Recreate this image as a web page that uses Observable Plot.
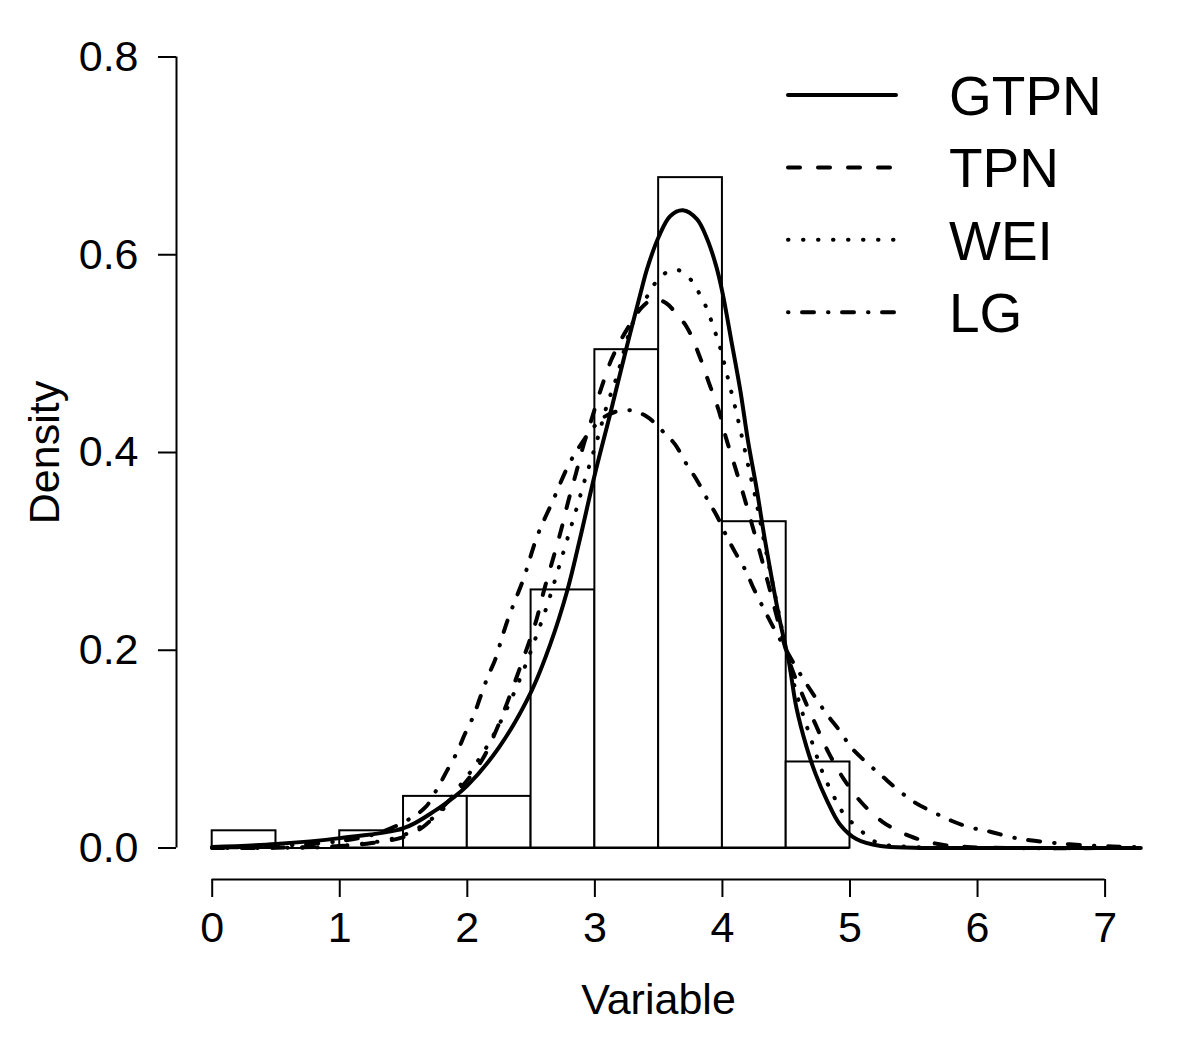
<!DOCTYPE html>
<html>
<head>
<meta charset="utf-8">
<script src="https://cdn.jsdelivr.net/npm/d3@7"></script>
<script src="https://cdn.jsdelivr.net/npm/@observablehq/plot@0.6"></script>
<style>
  html, body { margin: 0; padding: 0; background: #fff; }
  #chart { width: 1179px; height: 1048px; }
</style>
</head>
<body>
<div id="chart"></div>
<script>
// ---- Histogram ----
const binEdges = [0, 0.5, 1, 1.5, 2, 2.5, 3, 3.5, 4, 4.5, 5];
const binDensity = [0.0174, 0, 0.0174, 0.0522, 0.0522, 0.261, 0.504, 0.678, 0.330, 0.087];

// ---- Fitted densities ----
const gtpnX = [0, 0.5, 1, 1.5, 1.75, 1.89, 2, 2.25, 2.5, 2.65, 2.785, 2.88, 3, 3.12, 3.25, 3.36, 3.41, 3.5, 3.59, 3.69, 3.8, 3.88, 3.95, 4.0, 4.07, 4.14, 4.2, 4.27, 4.33, 4.45, 4.52, 4.58, 4.66, 4.73, 4.82, 4.92, 5.05, 5.24, 5.5, 6, 6.5, 7.28];
const gtpnY = [0.001, 0.004, 0.010, 0.020, 0.038, 0.051, 0.063, 0.102, 0.158, 0.206, 0.261, 0.311, 0.378, 0.439, 0.507, 0.562, 0.586, 0.618, 0.639, 0.645, 0.636, 0.616, 0.589, 0.562, 0.513, 0.463, 0.412, 0.362, 0.314, 0.230, 0.189, 0.142, 0.102, 0.075, 0.048, 0.024, 0.009, 0.002, 0.0003, 0, 0, 0];

const tpnX = [0, 0.5, 1, 1.25, 1.5, 1.66, 1.82, 1.99, 2.12, 2.22, 2.31, 2.39, 2.47, 2.54, 2.6, 2.73, 2.79, 2.85, 2.91, 2.98, 3.05, 3.13, 3.24, 3.37, 3.46, 3.56, 3.64, 3.72, 3.81, 3.89, 3.97, 4.03, 4.1, 4.17, 4.23, 4.3, 4.36, 4.47, 4.54, 4.63, 4.73, 4.83, 4.95, 5.09, 5.26, 5.47, 5.69, 5.92, 6.3, 7.28];
const tpnY = [0, 0.0003, 0.002, 0.005, 0.011, 0.022, 0.043, 0.067, 0.090, 0.117, 0.146, 0.174, 0.203, 0.230, 0.260, 0.319, 0.350, 0.378, 0.407, 0.436, 0.465, 0.494, 0.522, 0.547, 0.555, 0.551, 0.540, 0.527, 0.501, 0.472, 0.443, 0.414, 0.385, 0.355, 0.328, 0.296, 0.267, 0.213, 0.183, 0.154, 0.125, 0.097, 0.070, 0.046, 0.026, 0.012, 0.004, 0.001, 0, 0];

const weiX = [0, 0.5, 1, 1.5, 1.8, 1.895, 2.03, 2.16, 2.27, 2.37, 2.46, 2.54, 2.62, 2.69, 2.79, 2.858, 2.923, 2.962, 3.028, 3.093, 3.17, 3.30, 3.42, 3.48, 3.57, 3.63, 3.68, 3.767, 3.824, 3.877, 3.916, 3.955, 3.989, 4.047, 4.104, 4.156, 4.206, 4.258, 4.281, 4.35, 4.43, 4.5, 4.569, 4.634, 4.713, 4.79, 4.89, 4.955, 5.118, 5.22, 5.5, 6, 7.28];
const weiY = [0, 0.0002, 0.002, 0.013, 0.038, 0.055, 0.078, 0.104, 0.130, 0.158, 0.186, 0.214, 0.243, 0.272, 0.315, 0.344, 0.373, 0.389, 0.417, 0.447, 0.476, 0.532, 0.560, 0.5725, 0.583, 0.585, 0.583, 0.5725, 0.5595, 0.5458, 0.532, 0.517, 0.503, 0.473, 0.4435, 0.414, 0.3845, 0.355, 0.340, 0.295, 0.245, 0.200, 0.162, 0.134, 0.103, 0.075, 0.048, 0.034, 0.014, 0.005, 0.001, 0, 0];

const lgX = [0, 0.5, 1, 1.25, 1.5, 1.67, 1.76, 1.84, 1.92, 1.98, 2.05, 2.1, 2.16, 2.22, 2.27, 2.32, 2.38, 2.44, 2.55, 2.67, 2.80, 2.9, 3.0, 3.1, 3.25, 3.40, 3.52, 3.63, 3.71, 3.80, 3.88, 3.96, 4.03, 4.10, 4.18, 4.25, 4.32, 4.40, 4.48, 4.6, 4.73, 4.82, 4.92, 5.01, 5.13, 5.25, 5.37, 5.51, 5.65, 5.80, 5.95, 6.1, 6.26, 6.41, 6.58, 6.72, 7.06, 7.28];
const lgY = [0.0005, 0.002, 0.007, 0.013, 0.026, 0.041, 0.059, 0.078, 0.097, 0.115, 0.134, 0.152, 0.173, 0.191, 0.212, 0.232, 0.252, 0.272, 0.316, 0.351, 0.389, 0.410, 0.427, 0.438, 0.443, 0.437, 0.423, 0.408, 0.390, 0.372, 0.353, 0.335, 0.316, 0.299, 0.281, 0.261, 0.243, 0.223, 0.2045, 0.178, 0.152, 0.135, 0.1185, 0.1016, 0.0864, 0.073, 0.0594, 0.0459, 0.0365, 0.0273, 0.0206, 0.0165, 0.0111, 0.0078, 0.0054, 0.0037, 0.0015, 0.001];

const seriesNames = ["GTPN", "TPN", "WEI", "LG"];
const xTicks = [0, 1, 2, 3, 4, 5, 6, 7];
const yTicks = [0, 0.2, 0.4, 0.6, 0.8];

// ---- styles ----
const FONT = "'Liberation Sans', Arial, Helvetica, sans-serif";
const LW = 4;
const dashStyle = { GTPN: null, TPN: "12,18", WEI: "0.5,14.5", LG: "0.5,13.5,12,14" };

const bins = binDensity.map((d, i) => ({ x1: binEdges[i], x2: binEdges[i + 1], y: d }));
const seriesData = {
  GTPN: gtpnX.map((x, i) => ({ x, y: gtpnY[i] })),
  TPN: tpnX.map((x, i) => ({ x, y: tpnY[i] })),
  WEI: weiX.map((x, i) => ({ x, y: weiY[i] })),
  LG: lgX.map((x, i) => ({ x, y: lgY[i] }))
};

const lineMarks = seriesNames.map(name => Plot.line(seriesData[name], {
  x: "x", y: "y", curve: "catmull-rom",
  stroke: "black", strokeWidth: LW,
  strokeDasharray: dashStyle[name], strokeLinecap: "round", strokeLinejoin: "round"
}));

const W = 1179, H = 1048;
const chart = Plot.plot({
  width: W, height: H,
  marginLeft: 176, marginRight: 39, marginTop: 25, marginBottom: 169,
  style: { fontFamily: FONT, background: "white", color: "black", overflow: "visible" },
  x: { domain: [0, 7], range: [211.7, 1104.6] },
  y: { domain: [0, 0.8], range: [847.5, 56.5] },
  marks: [
    Plot.rectY(bins, { x1: "x1", x2: "x2", y: "y", fill: "white", stroke: "black", strokeWidth: 2 }),
    Plot.ruleY([0], { x1: binEdges[0], x2: binEdges[binEdges.length - 1], stroke: "black", strokeWidth: 2 }),
    ...lineMarks,
    // axis lines (R style detached axes)
    Plot.ruleY([0], { x1: xTicks[0], x2: xTicks[xTicks.length - 1], dy: 31.5, stroke: "black", strokeWidth: 2 }),
    Plot.ruleX([0], { y1: yTicks[0], y2: yTicks[yTicks.length - 1], dx: -35.7, stroke: "black", strokeWidth: 2 }),
    Plot.axisX({ ticks: xTicks, tickSize: 18, tickPadding: 14, fontSize: 43, tickFormat: d => String(d), label: null, strokeWidth: 2 }),
    Plot.axisY({ ticks: yTicks, tickSize: 18, tickPadding: 20, fontSize: 43, tickFormat: d3.format(".1f"), label: null, strokeWidth: 2 }),
    Plot.text(["Variable"], { frameAnchor: "bottom", dy: 121, text: d => d, fontSize: 43, fill: "black", textAnchor: "middle", lineAnchor: "middle" }),
    Plot.text(["Density"], { frameAnchor: "left", dx: -131, rotate: -90, text: d => d, fontSize: 43, fill: "black", textAnchor: "middle", lineAnchor: "middle" })
  ]
});
document.getElementById("chart").appendChild(chart);

// ---- legend (top right, R-style) ----
const svg = d3.select(chart);
const leg = svg.append("g").attr("font-family", FONT).attr("font-size", 55).attr("text-anchor", "start");
const rowY0 = 95, rowStep = 72.4;
seriesNames.forEach((name, i) => {
  const yy = rowY0 + i * rowStep;
  const ln = leg.append("line")
    .attr("x1", 788).attr("x2", 896).attr("y1", yy).attr("y2", yy)
    .attr("stroke", "black").attr("stroke-width", LW)
    .attr("stroke-linecap", "round");
  if (dashStyle[name]) ln.attr("stroke-dasharray", dashStyle[name]);
  leg.append("text").attr("x", 949).attr("y", yy).attr("dy", "0.36em")
    .attr("text-anchor", "start").attr("fill", "black").text(name);
});
</script>
</body>
</html>
